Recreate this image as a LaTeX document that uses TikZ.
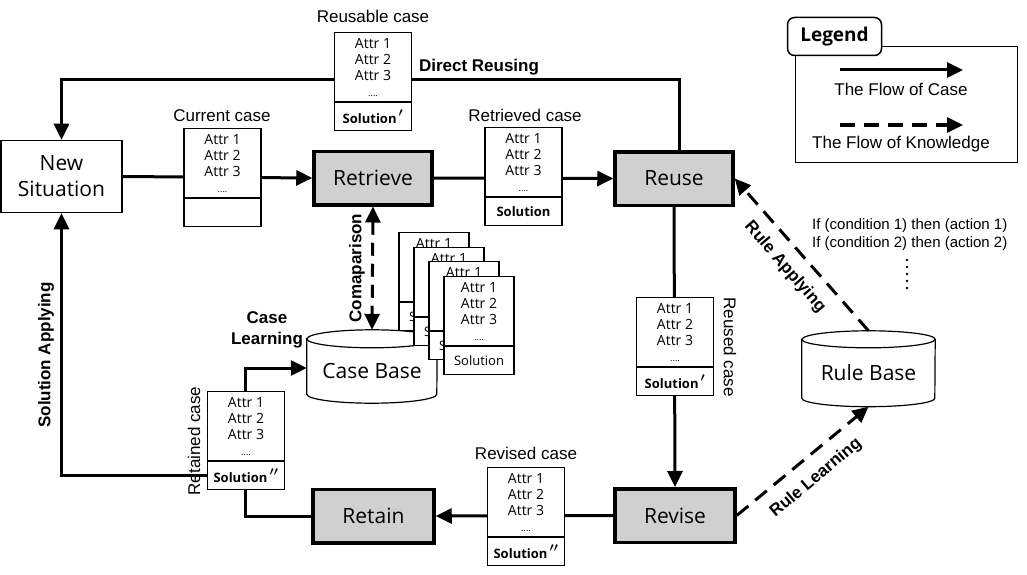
\documentclass[tikz,border=0pt]{standalone}
\usepackage{fontspec}
\setmainfont{Liberation Sans}
\newfontfamily\ms{Open Sans}
\usetikzlibrary{arrows.meta,backgrounds,calc}
\definecolor{procgray}{RGB}{208,208,208}
\newcommand{\fs}[2]{\fontsize{#1}{#2}\selectfont}
\newcommand{\pr}{\,{\fs{17}{14}$^{\boldsymbol{\prime}}$}}
\newcommand{\ppr}{\,{\fs{17}{14}$^{\boldsymbol{\prime\prime}}$}}
\usepackage{amsmath,amssymb,bm}
\newcommand{\casebox}[4]{%
  \node[attrbox, anchor=north] (#1) at (#2,#3) {Attr 1\\Attr 2\\Attr 3\\{\fs{9}{16}....}};
  \node[solbox, anchor=north] (#1s) at (#1.south) {#4};}
\tikzset{
  tip/.style={-{Triangle[length=16pt,width=15pt]}},
  flow/.style={line width=3pt, tip},
  kflow/.style={line width=3pt, dash pattern=on 15pt off 9pt, tip},
  proc/.style={draw, line width=3.5pt, fill=procgray, font=\ms\fs{21}{26}, inner sep=0pt, minimum width=118pt, minimum height=53.5pt},
  attrbox/.style={draw, line width=1.2pt, fill=white, minimum width=77pt, minimum height=69pt, inner sep=0pt, align=center, font=\ms\fs{14}{16}},
  solbox/.style={draw, line width=1.2pt, fill=white, minimum width=77pt, minimum height=28pt, inner sep=0pt, font=\ms\bfseries\fs{13}{14}},
  lbl/.style={font=\fs{17}{20}, inner sep=1pt},
  blbl/.style={font=\bfseries\fs{17}{21}, align=center, inner sep=1pt},
  cyl/.style={draw, line width=1.2pt, fill=white},
}
\begin{document}
\begin{tikzpicture}[x=1pt,y=-1pt]
\useasboundingbox (0,0) rectangle (1027,575);

% main nodes
\node[draw, line width=1.5pt, fill=white, minimum width=121pt, minimum height=72pt, inner sep=0pt, align=center, font=\ms\fs{21}{26}] (ns) at (61.5,176.5) {New\\Situation};
\node[proc] (rt) at (373,178) {Retrieve};
\node[proc] (rs) at (674,178.5) {Reuse};
\node[proc, minimum width=120pt] (rv) at (675,515.5) {Revise};
\node[proc, minimum width=121pt] (rn) at (373.5,516) {Retain};

% databases (text nodes; bodies drawn on background)
\node[minimum width=130pt, minimum height=64pt, inner sep=0pt, font=\ms\fs{21}{26}] (cb) at (372,371) {Case Base};
\node[minimum width=133pt, minimum height=67pt, inner sep=0pt, font=\ms\fs{21}{26}] (rb) at (868.5,373) {Rule Base};

% stacked cases in the case base
\foreach \i/\x/\y in {1/434/232, 2/449/247, 3/464/261, 4/479/276} {
  \node[attrbox, minimum width=70pt, anchor=north] (card\i) at (\x,\y) {Attr 1\\Attr 2\\Attr 3\\{\fs{9}{16}....}};
  \node[solbox, minimum width=70pt, font=\ms\fs{13}{14}, anchor=north] (card\i s) at (card\i.south) {Solution};
}

% case boxes
\casebox{ru}{373}{32}{Solution\pr}
\casebox{cc}{222.5}{128}{}
\casebox{rc}{523.5}{127}{Solution}
\casebox{uc}{675}{297}{Solution\pr}
\casebox{vc}{526}{467}{Solution\ppr}
\casebox{tc}{246}{391}{Solution\ppr}

% labels
\node[lbl] (lru) at (373,16) {Reusable case};
\node[blbl] (ldr) at (479,67) {Direct Reusing};
\node[lbl] (lcc) at (222,116) {Current case};
\node[lbl] (lrc) at (525,115) {Retrieved case};
\node[lbl] (lvc) at (526,453) {Revised case};
\node[lbl, rotate=-90] (luc) at (730,347) {Reused case};
\node[lbl, rotate=90] (ltc) at (194,441) {Retained case};
\node[blbl] (lcl) at (267,330) {Case\\Learning};
\node[blbl, rotate=90] (lcmp) at (357,268) {Comaparison};
\node[blbl, rotate=90] (lsa) at (46,355) {Solution Applying};
\node[blbl, rotate=-49] (lra) at (785,267) {Rule Applying};
\node[blbl, rotate=40] (lrl) at (816,478) {Rule Learning};

% rules
\node[font=\fs{15}{18}, align=left, anchor=west, inner sep=0pt] (rules) at (812,235) {If (condition 1) then (action 1)\\If (condition 2) then (action 2)};
\foreach \yy in {260,267,274,281,288} \fill (907,\yy) circle[radius=1.3pt];

% legend
\node[draw, line width=1.5pt, minimum width=222pt, minimum height=116pt, inner sep=0pt] (lgbox) at (906.5,104.5) {};
\node[draw, line width=1.5pt, fill=white, rounded corners=7pt, minimum width=94pt, minimum height=38pt, inner sep=0pt, font=\ms\bfseries\fs{19}{20}] (lg) at (834.5,36.5) {Legend};
\coordinate (la1) at (840,70);
\coordinate (la2) at (963,70);
\draw[flow] (la1) -- (la2);
\node[lbl] (lt1) at (901,89) {The Flow of Case};
\coordinate (lb1) at (840,125);
\coordinate (lb2) at (963,125);
\draw[kflow] (lb1) -- (lb2);
\node[lbl] (lt2) at (901,144) {The Flow of Knowledge};

\coordinate (top) at (679,80);
\coordinate (cl) at (245,368);

\begin{pgfonlayer}{background}
  % cylinders
  \draw[cyl] (cb.north west) -- ($(cb.south west)+(0,-9)$) arc[start angle=180,end angle=360,x radius=65pt,y radius=9pt] -- (cb.north east) arc[start angle=0,end angle=180,x radius=65pt,y radius=9pt] -- cycle;
  \draw[line width=1.2pt] (cb.north west) arc[start angle=180,end angle=360,x radius=65pt,y radius=9pt];
  \draw[cyl] (rb.north west) -- ($(rb.south west)+(0,-8.5)$) arc[start angle=180,end angle=360,x radius=66.5pt,y radius=8.5pt] -- (rb.north east) arc[start angle=0,end angle=180,x radius=66.5pt,y radius=8.5pt] -- cycle;
  \draw[line width=1.2pt] (rb.north west) arc[start angle=180,end angle=360,x radius=66.5pt,y radius=8.5pt];
  % flows of case
  \draw[flow] (ns.east) -- (rt.west);
  \draw[flow] (rt.east) -- (rs.west);
  \draw[flow] ($(rs.north)+(5,0)$) -- (top) -| (ns.north);
  \draw[flow] (rs.south) -- (rv.north);
  \draw[flow] (rv.west) -- (rn.east);
  \draw[flow] (rn.west) -| (cl) -- (cb.west |- cl);
  \draw[flow] (tcs.west) -| (ns.south);
  % flows of knowledge
  \draw[kflow, dash pattern=on 13pt off 8pt, {Triangle[length=16pt,width=15pt]}-{Triangle[length=16pt,width=15pt]}] (rt.south) -- ($(cb.north)+(0,-9)$);
  \draw[kflow] ($(rb.north)+(0,-8.5)$) -- (rs.east);
  \draw[kflow] (rv.east) -- (rb.south);
\end{pgfonlayer}
\end{tikzpicture}
\end{document}
